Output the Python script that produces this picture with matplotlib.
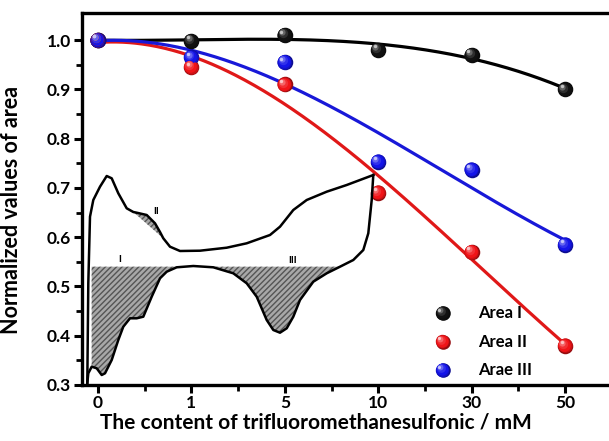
import numpy as np
import matplotlib
matplotlib.use('Agg')
import matplotlib.pyplot as plt
import matplotlib.colors as mcolors
from matplotlib.ticker import FormatStrFormatter
from matplotlib.transforms import offset_copy

plt.rcParams['font.family'] = ['Lato', 'DejaVu Sans']
plt.rcParams['font.weight'] = 'bold'

# data (x is categorical, equally spaced)
conc_labels = ['0', '1', '5', '10', '30', '50']
area_1 = [1.000, 0.998, 1.010, 0.980, 0.970, 0.900]
area_2 = [1.000, 0.945, 0.910, 0.690, 0.570, 0.380]
area_3 = [1.000, 0.965, 0.955, 0.753, 0.737, 0.585]
series_names = ['Area I', 'Area II', 'Arae III']
series_colors = ['#111111', '#f01418', '#1414e8']
line_colors = ['#000000', '#e01818', '#1818d8']

# inset cyclic voltammogram (pixel-like units)
cv_upper_x = [87.3, 88.3, 90.0, 93.3, 100.0, 106.7, 111.7, 118.3, 126.7, 133.3, 136.7,
              146.7, 155.0, 160.0, 163.3, 170.0, 180.0, 200.0, 226.7, 246.7, 270.0,
              280.0, 293.3, 306.7, 326.7, 346.7, 373.3]
cv_upper_y = [383.3, 283.3, 216.7, 200.0, 186.7, 176.0, 178.3, 193.3, 208.3, 212.0, 212.7,
              215.0, 223.3, 232.0, 238.3, 246.7, 251.0, 250.7, 247.7, 243.3, 235.0,
              226.7, 210.0, 200.0, 191.7, 185.0, 175.0]
cv_lower_x = [373.3, 371.7, 368.3, 363.3, 353.3, 340.0, 326.7, 313.3, 300.0, 293.3, 286.7,
              280.0, 273.3, 266.7, 256.7, 246.7, 233.3, 213.3, 193.3, 176.7, 166.7,
              160.0, 151.7, 143.3, 136.7, 130.0, 123.3, 118.3, 111.7, 105.0, 101.7,
              96.7, 91.7, 88.3, 87.3]
cv_lower_y = [175.0, 200.0, 233.3, 250.0, 260.0, 266.7, 273.3, 281.7, 300.0, 316.7, 328.3,
              332.7, 330.0, 320.0, 296.7, 283.3, 273.3, 267.3, 266.0, 267.3, 271.7,
              278.3, 296.7, 316.7, 318.3, 318.3, 326.7, 340.0, 360.0, 373.3, 375.0,
              368.3, 366.7, 373.3, 383.3]
cv_baseline = 266.7


def sphere(ax, x, y, color, size=125, transform=None, zorder=5):
    # fake 3D ball: stacked circles, lighter and shifted to the upper left
    base = transform if transform is not None else ax.transData
    rgb = np.array(mcolors.to_rgb(color))
    r0 = np.sqrt(size)
    layers = [(1.00, rgb * 0.62), (0.92, rgb * 0.85), (0.82, rgb),
              (0.60, rgb + (1 - rgb) * 0.12), (0.40, rgb + (1 - rgb) * 0.35),
              (0.22, rgb + (1 - rgb) * 0.75)]
    for i, (f, c) in enumerate(layers):
        r = r0 * f
        d = (r0 - r) * 0.30
        tr = offset_copy(base, fig=ax.figure, x=-d, y=d, units='points')
        ax.scatter(x, y, s=r ** 2, color=np.clip(c, 0, 1), transform=tr,
                   zorder=zorder + 0.01 * i, linewidths=0)


fig = plt.figure(figsize=(6.09, 4.41), dpi=100)
ax = fig.add_axes([0.1346, 0.127, 0.8778, 0.8435])

xi = np.arange(len(conc_labels))
xs = np.linspace(0, len(conc_labels) - 1, 300)
for vals, col in zip([area_1, area_2, area_3], line_colors):
    coef = np.polyfit(xi, vals, 3)
    ax.plot(xs, np.polyval(coef, xs), color=col, lw=2.3, zorder=3)
for vals, col in zip([area_1, area_2, area_3], series_colors):
    sphere(ax, xi, vals, col)

ax.set_xlim(-0.17, 5.55)
ax.set_ylim(0.3, 1.055)
ax.set_xticks(xi)
ax.set_xticklabels(conc_labels)
ax.set_xticks(xi[:-1] + 0.5, minor=True)
ax.set_yticks(np.arange(0.3, 1.01, 0.1))
ax.set_yticks(np.arange(0.35, 1.05, 0.1), minor=True)
ax.yaxis.set_major_formatter(FormatStrFormatter('%.1f'))
for s in ax.spines.values():
    s.set_linewidth(2.4)
ax.tick_params(which='major', direction='out', length=6, width=2.2, labelsize=12.5)
ax.tick_params(which='minor', direction='out', length=4, width=2.0)
ax.tick_params(axis='x', pad=1)
ax.tick_params(axis='y', pad=2)
ax.set_xlabel('The content of trifluoromethanesulfonic / mM', fontsize=15, fontweight='bold', labelpad=0)
ax.xaxis.set_label_coords(0.4377, -0.075)
ax.set_ylabel('Normalized values of area', fontsize=15.5, fontweight='bold')
ax.yaxis.set_label_coords(-0.113, 0.47)

# manual legend with shaded spheres
for k, (name, col) in enumerate(zip(series_names, series_colors)):
    ly = 0.1935 - k * 0.0766
    sphere(ax, [0.675], [ly], col, size=110, transform=ax.transAxes)
    ax.text(0.741, ly, name, transform=ax.transAxes, fontsize=12, fontweight='bold', va='center')

# inset CV sketch
ins = fig.add_axes([80 / 609, (441 - 390) / 441, 300 / 609, 220 / 441])
ins.set_xlim(80, 380)
ins.set_ylim(390, 170)
ins.axis('off')
ins.patch.set_alpha(0)

ux = np.array(cv_upper_x)
uy = np.array(cv_upper_y)
lx = np.array(cv_lower_x)[::-1]
ly_ = np.array(cv_lower_y)[::-1]
ins.fill_between(lx, cv_baseline, ly_, where=(lx >= 91.7) & (lx <= 340) & (ly_ >= cv_baseline),
                 interpolate=True, facecolor='#a8a8a8', edgecolor='#555555', hatch='//////', linewidth=0)
m2 = (ux >= 133.3) & (ux <= 163.3)
ins.fill(ux[m2], uy[m2], facecolor='#a8a8a8', edgecolor='#555555', hatch='//////', linewidth=0)
ins.plot(ux, uy, color='black', lw=1.8, solid_joinstyle='round')
ins.plot(lx, ly_, color='black', lw=1.8, solid_joinstyle='round')
ins.text(120, 259, 'I', fontsize=7, fontweight='bold', ha='center', va='center')
ins.text(155.7, 212, 'II', fontsize=7, fontweight='bold', ha='center', va='center')
ins.text(292.3, 260.7, 'III', fontsize=7, fontweight='bold', ha='center', va='center')

fig.savefig('out.png', dpi=100)
